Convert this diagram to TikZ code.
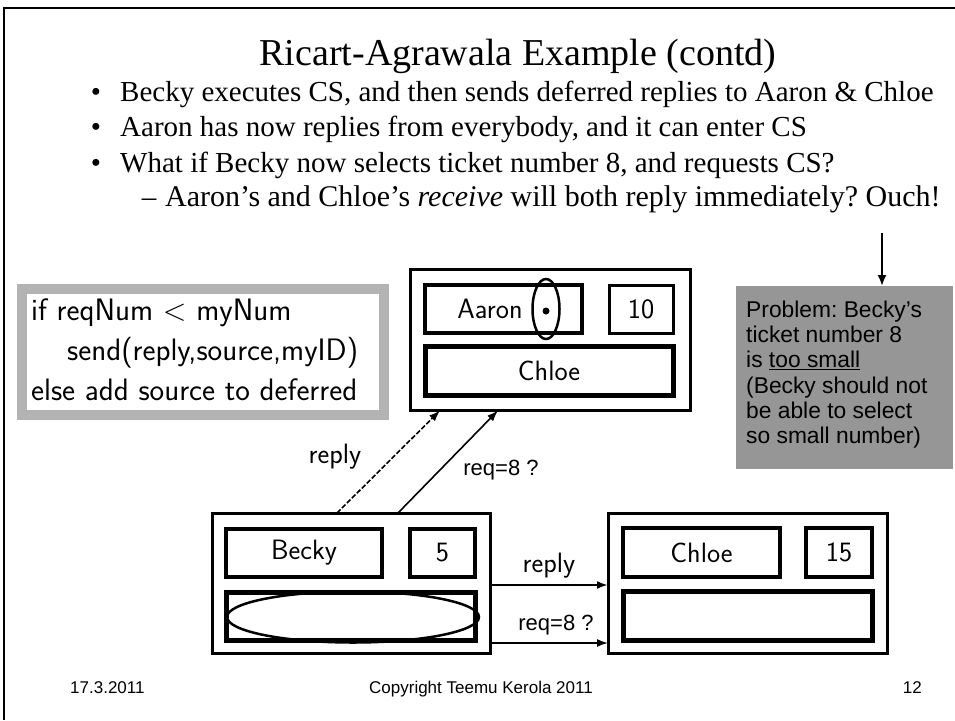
\documentclass[tikz,border=0pt]{standalone}
\usepackage{fontspec}
\setmainfont{Liberation Serif}
\newfontfamily\arial{Liberation Sans}
\usetikzlibrary{shapes.geometric,arrows.meta}
\definecolor{probgray}{HTML}{969696}
\definecolor{codegray}{HTML}{B3B3B3}
\frenchspacing
\tikzset{
  outerbox/.style={draw, line width=3pt, inner sep=0pt, outer sep=0pt},
  innerbox/.style={draw, line width=4pt, inner sep=0pt, outer sep=0pt, font=\sffamily\fontsize{28}{32}\selectfont},
  bodytext/.style={anchor=base west, inner sep=0pt, font=\fontsize{29}{33}\selectfont},
  subtext/.style={anchor=base west, inner sep=0pt, font=\fontsize{30}{34}\selectfont},
  bulletmark/.style={anchor=base, inner sep=0pt, font=\fontsize{29}{33}\selectfont},
  codetext/.style={anchor=base west, inner sep=0pt, font=\sffamily\fontsize{31}{35}\selectfont},
  sflabel/.style={inner sep=0pt, font=\sffamily\fontsize{28}{32}\selectfont},
  ariallabel/.style={inner sep=0pt, font=\arial\fontsize{22}{26}\selectfont},
  footer/.style={anchor=base, inner sep=0pt, font=\arial\fontsize{17}{20}\selectfont},
  arr/.style={-{Latex[length=11pt,width=8pt]}, line width=1.6pt},
}
\begin{document}
\begin{tikzpicture}[x=1pt,y=-1pt]
\useasboundingbox (0,0) rectangle (955,720);
% slide frame
\draw[line width=1.5pt] (4,720) -- (4,8) -- (955,8);
% title
\node[anchor=base, inner sep=0pt, font=\fontsize{38}{44}\selectfont] (title) at (518,65) {Ricart-Agrawala Example (contd)};
% bullets
\node[bulletmark] (b1) at (96,101) {•};
\node[bodytext] (t1) at (120,101) {Becky executes CS, and then sends deferred replies to Aaron \& Chloe};
\node[bulletmark] (b2) at (96,136) {•};
\node[bodytext] (t2) at (120,136) {Aaron has now replies from everybody, and it can enter CS};
\node[bulletmark] (b3) at (96,172) {•};
\node[bodytext] (t3) at (120,172) {What if Becky now selects ticket number 8, and requests CS?};
\node[bulletmark] (b4) at (149,206) {–};
\node[subtext] (t4) at (165,206) {Aaron’s and Chloe’s \textit{receive} will both reply immediately? Ouch!};
% code box
\node[draw=codegray, line width=10pt, fill=white, inner sep=0pt, outer sep=0pt, minimum width=362pt, minimum height=126pt] (code) at (203,352) {};
\node[codetext] (c1) at (31,320) {if reqNum < myNum};
\node[codetext] (c2) at (67,360) {send(reply,source,myID)};
\node[codetext] (c3) at (31,400) {else add source to deferred};
% Aaron process
\node[outerbox, minimum width=280pt, minimum height=141pt] (aaron) at (550,340) {};
\node[innerbox, minimum width=157pt, minimum height=48pt] (aname) at (503.5,309) {Aaron\hspace*{27pt}};
\node[innerbox, line width=3pt, minimum width=64pt, minimum height=48pt] (anum) at (641,309) {10};
\node[innerbox, line width=5pt, minimum width=248pt, minimum height=49pt] (aqueue) at (549,370.5) {Chloe};
\node[draw, ellipse, line width=2.5pt, inner sep=0pt, minimum width=27pt, minimum height=60pt] (sel) at (546,309) {};
\node[circle, fill, inner sep=0pt, minimum size=7pt] (dot) at (546,311) {};
% Becky process
\node[outerbox, minimum width=278pt, minimum height=140pt] (becky) at (351,583) {};
\node[innerbox, line width=3.5pt, minimum width=156pt, minimum height=48pt] (bname) at (304,553) {Becky};
\node[innerbox, line width=3.5pt, minimum width=65pt, minimum height=48pt] (bnum) at (442.5,553) {5};
\node[innerbox, line width=5pt, minimum width=249pt, minimum height=48pt] (bqueue) at (350.5,616) {};
\node[draw, ellipse, line width=2.5pt, inner sep=0pt, minimum width=252pt, minimum height=51pt] (bsel) at (353,617) {};
% Chloe process
\node[outerbox, minimum width=279pt, minimum height=140pt] (chloe) at (747.5,583) {};
\node[innerbox, minimum width=157pt, minimum height=49pt] (cname) at (701.5,552.5) {Chloe};
\node[innerbox, line width=3.5pt, minimum width=66pt, minimum height=49pt] (cnum) at (839,552.5) {15};
\node[innerbox, line width=5pt, minimum width=249pt, minimum height=49pt] (cqueue) at (747.5,615.5) {};
% arrows
\draw[arr, dashed, dash pattern=on 5pt off 2pt] ([xshift=-14pt]becky.north) -- ([xshift=-110pt]aaron.south);
\draw[arr] ([xshift=47pt]becky.north) -- ([xshift=-52pt]aaron.south);
\draw[arr, line width=2.2pt] ([yshift=-2pt]becky.east) -- ([yshift=-2pt]chloe.west);
\draw[arr] ([yshift=-60pt]becky.east) -- ([yshift=-60pt]chloe.west);
\node[sflabel, anchor=base] (lreply1) at (335,463) {reply};
\node[ariallabel, anchor=base] (lreq1) at (501,475) {req=8 ?};
\node[sflabel, anchor=base] (lreply2) at (549,572) {reply};
\node[ariallabel, anchor=base] (lreq2) at (556,630) {req=8 ?};
% problem note
\node[fill=probgray, inner sep=0pt, outer sep=0pt, minimum width=217pt, minimum height=183pt] (prob) at (844.5,377.5) {};
\node[anchor=north west, inner sep=0pt, align=left, font=\arial\fontsize{22.8}{25.3}\selectfont] (probtext) at (746,300.5) {Problem: Becky’s\\ticket number 8\\is \underline{too small}\\(Becky should not\\be able to select\\so small number)};
\coordinate (probtop) at (882,233);
\draw[-{Latex[length=11pt,width=9pt]}, line width=2pt] (probtop) -- (probtop |- prob.north);
% footer
\node[footer, anchor=base west] (date) at (70,693) {17.3.2011};
\node[footer] (copy) at (481,693) {Copyright Teemu Kerola 2011};
\node[footer, anchor=base east] (page) at (922,693) {12};
\end{tikzpicture}
\end{document}
